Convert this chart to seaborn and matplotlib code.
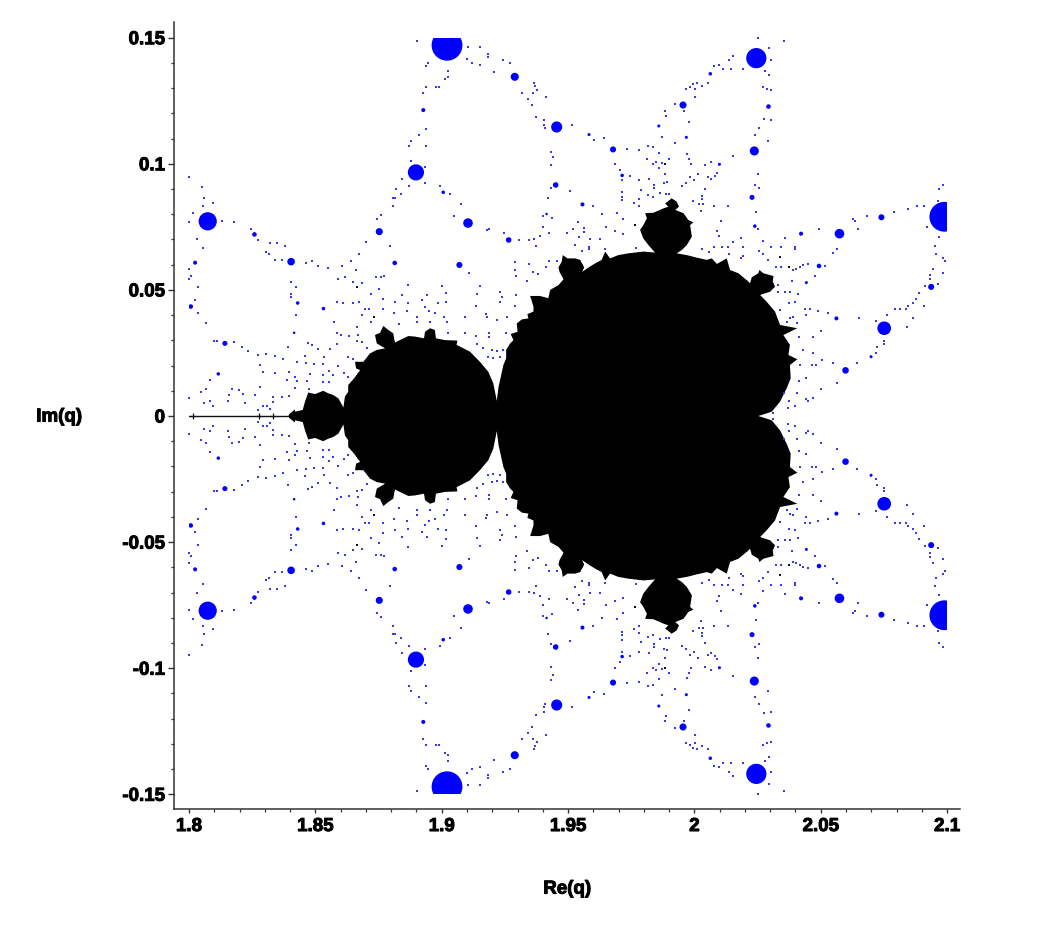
import numpy as np
import pandas as pd
import matplotlib
matplotlib.use("Agg")
import matplotlib.pyplot as plt
import matplotlib.patheffects as pe
from matplotlib.patches import Rectangle
from matplotlib.ticker import MultipleLocator
import seaborn as sns

# upper half of the black set, left tip to right cusp
body_x = [1.8393, 1.8397, 1.8419, 1.8419, 1.8450, 1.8459, 1.8472, 1.8499, 1.8531, 1.8551, 1.8571, 1.8591, 1.8611,
          1.8617, 1.8630, 1.8630, 1.8653, 1.8677, 1.8661, 1.8657, 1.8690, 1.8716, 1.8743, 1.8776, 1.8743, 1.8736,
          1.8756, 1.8769, 1.8789, 1.8808, 1.8815, 1.8822, 1.8868, 1.8894, 1.8930, 1.8934, 1.8954, 1.8973, 1.8977,
          1.9013, 1.9062, 1.9059, 1.9112, 1.9151, 1.9184, 1.9204, 1.9218, 1.9225, 1.9234, 1.9244, 1.9255, 1.9255,
          1.9271, 1.9284, 1.9273, 1.9300, 1.9297, 1.9317, 1.9343, 1.9339, 1.9363, 1.9363, 1.9350, 1.9389, 1.9422,
          1.9429, 1.9462, 1.9482, 1.9466, 1.9462, 1.9475, 1.9479, 1.9498, 1.9528, 1.9548, 1.9564, 1.9554, 1.9535,
          1.9515, 1.9548, 1.9581, 1.9607, 1.9633, 1.9647, 1.9666, 1.9699, 1.9739, 1.9798, 1.9844, 1.9818, 1.9798,
          1.9785, 1.9798, 1.9812, 1.9805, 1.9838, 1.9877, 1.9897, 1.9884, 1.9910, 1.9930, 1.9939, 1.9924, 1.9957,
          1.9976, 1.9996, 1.9983, 1.9990, 1.9970, 1.9950, 1.9930, 1.9970, 2.0009, 2.0049, 2.0069, 2.0089, 2.0128,
          2.0141, 2.0174, 2.0214, 2.0220, 2.0227, 2.0253, 2.0257, 2.0273, 2.0313, 2.0310, 2.0319, 2.0300, 2.0260,
          2.0286, 2.0319, 2.0339, 2.0407, 2.0352, 2.0378, 2.0372, 2.0407, 2.0378, 2.0381, 2.0365, 2.0339, 2.0306,
          2.0253]
body_y = [0.0000, 0.0008, 0.0026, 0.0017, 0.0024, 0.0057, 0.0093, 0.0087, 0.0100, 0.0090, 0.0083, 0.0070, 0.0034,
          0.0077, 0.0096, 0.0123, 0.0149, 0.0182, 0.0189, 0.0215, 0.0215, 0.0248, 0.0262, 0.0268, 0.0288, 0.0321,
          0.0330, 0.0357, 0.0341, 0.0328, 0.0291, 0.0295, 0.0317, 0.0315, 0.0308, 0.0334, 0.0348, 0.0341, 0.0308,
          0.0301, 0.0299, 0.0282, 0.0255, 0.0215, 0.0176, 0.0130, 0.0060, 0.0116, 0.0156, 0.0202, 0.0229, 0.0262,
          0.0288, 0.0301, 0.0325, 0.0334, 0.0367, 0.0383, 0.0387, 0.0404, 0.0414, 0.0434, 0.0476, 0.0476, 0.0467,
          0.0500, 0.0519, 0.0542, 0.0572, 0.0589, 0.0612, 0.0638, 0.0625, 0.0625, 0.0619, 0.0589, 0.0568, 0.0550,
          0.0539, 0.0566, 0.0589, 0.0605, 0.0619, 0.0652, 0.0625, 0.0638, 0.0645, 0.0652, 0.0648, 0.0678, 0.0704,
          0.0738, 0.0757, 0.0784, 0.0804, 0.0806, 0.0823, 0.0830, 0.0843, 0.0863, 0.0850, 0.0830, 0.0817, 0.0804,
          0.0777, 0.0768, 0.0757, 0.0711, 0.0678, 0.0658, 0.0645, 0.0638, 0.0628, 0.0619, 0.0625, 0.0603, 0.0625,
          0.0579, 0.0566, 0.0533, 0.0526, 0.0550, 0.0566, 0.0579, 0.0566, 0.0555, 0.0533, 0.0513, 0.0493, 0.0480,
          0.0453, 0.0414, 0.0361, 0.0348, 0.0321, 0.0282, 0.0242, 0.0225, 0.0202, 0.0149, 0.0110, 0.0057, 0.0017,
          0.0000]

# the black tail on the real axis
tail_x = [1.8000, 1.8393]
tail_y = [0.0, 0.0]
tail_tick_x = [1.8017, 1.8278, 1.8331]
tail_tick_y = [0.0, 0.0, 0.0]

# blue spots, upper half: centre and radius
spot_x = [1.9021, 2.0989, 1.8074, 1.8898, 1.9289, 1.9455, 1.8927, 1.8259, 1.8404, 1.8753, 1.9104, 1.9006, 1.8814,
          1.9070, 1.9265, 1.8024, 1.8007, 1.8430, 1.8532, 1.8142, 1.8116, 1.8416, 1.9451, 1.9415, 2.0245, 2.0063,
          1.9955, 2.0293, 2.0237, 1.9678, 1.9583, 1.9968, 2.0099, 1.9714, 1.9859, 1.9557, 2.0228, 2.0239, 2.0422,
          2.0574, 2.0740, 2.0493, 2.0443, 2.0937, 2.0751, 2.0562, 2.0598, 2.0699]
spot_y = [0.1470, 0.0790, 0.0772, 0.0966, 0.1345, 0.1146, 0.1213, 0.0720, 0.0612, 0.0731, 0.0765, 0.0887, 0.0607,
          0.0599, 0.0698, 0.0608, 0.0434, 0.0448, 0.0426, 0.0288, 0.0167, 0.0330, 0.0916, 0.0801, 0.1419, 0.1357,
          0.1233, 0.1227, 0.1051, 0.1057, 0.1116, 0.1105, 0.0998, 0.0954, 0.1150, 0.0839, 0.0867, 0.0753, 0.0723,
          0.0723, 0.0788, 0.0595, 0.0529, 0.0512, 0.0348, 0.0387, 0.0181, 0.0235]
spot_r = [0.0061, 0.0059, 0.0036, 0.0032, 0.0016, 0.0022, 0.0008, 0.0009, 0.0015, 0.0014, 0.0019, 0.0007, 0.0009,
          0.0012, 0.0011, 0.0008, 0.0009, 0.0007, 0.0007, 0.0010, 0.0007, 0.0005, 0.0011, 0.0005, 0.0040, 0.0007,
          0.0014, 0.0009, 0.0018, 0.0012, 0.0006, 0.0006, 0.0006, 0.0007, 0.0006, 0.0008, 0.0010, 0.0007, 0.0008,
          0.0019, 0.0012, 0.0009, 0.0006, 0.0012, 0.0027, 0.0008, 0.0013, 0.0006]

# tiny blue dots, upper half
dot_x = [1.8901, 1.9104, 1.9152, 1.9182, 1.9182, 1.9099, 1.9119, 1.9152, 1.9241, 1.9270, 1.9207, 1.8944, 1.8938,
         1.9026, 1.9026, 1.9013, 1.8976, 1.8989, 1.8938, 1.8927, 1.9365, 1.9371, 1.9378, 1.9360, 1.9319, 1.9343,
         1.9356, 1.9413, 1.9372, 1.9405, 1.9405, 1.9409, 1.8938, 1.8909, 1.8877, 1.8938, 1.8872, 1.9431, 1.9439,
         1.8877, 1.9431, 1.8934, 1.8934, 1.8872, 1.8844, 1.8819, 1.8838, 1.8806, 1.8814, 1.8809, 1.8760, 1.8743,
         1.8993, 1.9033, 1.9075, 1.9050, 1.9187, 1.9178, 1.9247, 1.9306, 1.9345, 1.9365, 1.9389, 1.9426, 1.9372,
         1.9400, 1.9400, 1.9431, 1.9422, 1.9438, 1.8001, 1.8053, 1.8059, 1.8095, 1.8054, 1.8017, 1.8001, 1.8131,
         1.8178, 1.8244, 1.8030, 1.8274, 1.8054, 1.8321, 1.8350, 1.8380, 1.8305, 1.8315, 1.8339, 1.8368, 1.8463,
         1.8488, 1.8512, 1.8551, 1.8605, 1.8641, 1.8674, 1.8700, 1.8795, 1.8660, 1.8588, 1.8617, 1.8648, 1.8683,
         1.8739, 1.8758, 1.8773, 1.8001, 1.8007, 1.8001, 1.8036, 1.8024, 1.8036, 1.8066, 1.8405, 1.8422, 1.8405,
         1.8405, 1.8422, 1.8393, 1.8472, 1.8487, 1.8512, 1.8534, 1.8558, 1.8587, 1.8587, 1.8603, 1.8574, 1.8584,
         1.8611, 1.8648, 1.8671, 1.8696, 1.8714, 1.8683, 1.8719, 1.8666, 1.8634, 1.8670, 1.8663, 1.8683, 1.8703,
         1.8719, 1.8753, 1.8766, 1.8815, 1.8769, 1.8811, 1.8842, 1.8867, 1.8867, 1.8861, 1.8921, 1.8943, 1.8934,
         1.8951, 1.8973, 1.9000, 1.9016, 1.9016, 1.8987, 1.9009, 1.9020, 1.8904, 1.8904, 1.8954, 1.8832, 1.9109,
         1.9152, 1.9141, 1.9136, 1.9092, 1.9175, 1.9178, 1.9217, 1.9231, 1.9237, 1.9290, 1.9290, 1.9293, 1.9345,
         1.9336, 1.9360, 1.9382, 1.9426, 1.9413, 1.9455, 1.9294, 1.9290, 1.9257, 1.9231, 1.9092, 1.9026, 1.9136,
         1.9189, 1.9189, 1.9253, 1.9138, 1.9165, 1.9198, 1.9217, 1.9244, 1.9185, 1.9204, 1.9231, 1.8099, 1.8112,
         1.8178, 1.8208, 1.8232, 1.8273, 1.8303, 1.8339, 1.8373, 1.8429, 1.8458, 1.8463, 1.8495, 1.8529, 1.8588,
         1.8631, 1.8650, 1.8281, 1.8292, 1.8339, 1.8397, 1.8421, 1.8429, 1.8386, 1.8479, 1.8466, 1.8532, 1.8553,
         1.8529, 1.8553, 1.8571, 1.8613, 1.8631, 1.8083, 1.8066, 1.8049, 1.8169, 1.8197, 1.8160, 1.8281, 1.8215,
         1.8261, 1.8220, 1.8154, 1.8083, 1.8059, 1.8095, 1.8001, 1.8334, 1.8368, 1.8397, 1.8421, 1.8334, 1.8292,
         1.8307, 1.8273, 1.8321, 1.8475,
         2.0251, 2.0355, 2.0297, 2.0303, 2.0154, 2.0137, 2.0096, 2.0078, 2.0115, 2.0144, 2.0191, 2.0280, 2.0297,
         2.0054, 2.0012, 1.9996, 2.0030, 1.9983, 1.9967, 2.0001, 2.0273, 2.0286, 2.0303, 2.0001, 1.9923, 1.9885,
         1.9888, 1.9960, 1.9978, 2.0276, 2.0303, 2.0257, 2.0239, 2.0293, 1.9515, 1.9603, 1.9644, 1.9871, 1.9923,
         1.9817, 1.9836, 1.9734, 1.9781, 1.9859, 1.9971, 1.9978, 1.9988, 1.9898, 1.9811, 1.9836, 1.9848, 1.9871,
         1.9859, 1.9687, 1.9706, 1.9745, 2.0042, 2.0066, 2.0154, 2.0253, 2.0088, 2.0080, 2.0054, 2.0066, 2.0013,
         1.9983, 2.0000, 1.9967, 1.9949, 1.9883, 1.9893, 1.9881, 1.9822, 1.9780, 1.9715, 1.9840, 1.9840, 1.9788,
         1.9715, 1.9715, 1.9715, 1.9817, 1.9836, 1.9864, 1.9888, 1.9900, 1.9782, 1.9759, 1.9782, 1.9508, 1.9598,
         1.9635, 1.9693, 1.9716, 1.9650, 1.9541, 1.9563, 1.9563, 1.9521, 1.9497, 1.9686, 1.9719, 1.9545, 1.9587,
         1.9628, 1.9526, 1.9581, 1.9555, 1.9584, 1.9769, 1.9646, 2.0240, 2.0257, 2.0042, 2.0030, 2.0030, 1.9993,
         2.0020, 2.0033, 2.0079, 2.0131, 2.0025, 2.0104, 2.0244, 2.0251, 2.0088, 2.0096, 2.0186, 2.0154, 2.0078,
         2.0108, 2.0132, 2.0032, 2.0057, 2.0191, 2.0273, 2.0302, 2.0344, 2.0357, 2.0398, 2.0398, 2.0257, 2.0273,
         2.0194, 2.0186, 2.0293, 2.0135, 2.0493, 2.0563, 2.0547, 2.0629, 2.0636, 2.0648, 2.0683, 2.0790, 2.0844,
         2.0880, 2.0909, 2.0922, 2.0963, 2.0968, 2.0985, 2.0968, 2.0951, 2.0956, 2.0985, 2.0992, 2.0943, 2.0985,
         2.0933, 2.0933, 2.0963, 2.0913, 2.0890, 2.0877, 2.0866, 2.0909, 2.0844, 2.0838, 2.0814, 2.0795, 2.0761,
         2.0719, 2.0864, 2.0840, 2.0650, 2.0529, 2.0491, 2.0458, 2.0439, 2.0442, 2.0751, 2.0751, 2.0724, 2.0719,
         2.0642, 2.0547, 2.0517, 2.0451, 2.0429, 2.0416, 2.0402, 2.0392, 2.0344, 2.0323, 2.0476, 2.0388, 2.0332,
         2.0332, 2.0359, 2.0380, 2.0410, 2.0375, 2.0398, 2.0339, 2.0392, 2.0379, 2.0365, 2.0405, 2.0500, 2.0471,
         2.0413, 2.0431, 2.0471, 2.0503, 2.0418, 2.0464, 2.0481, 2.0412, 2.0441, 2.0500, 2.0563, 2.0405, 2.0471,
         2.0441, 2.0451, 2.0375, 2.0398, 2.0369, 2.0310, 2.0355]
dot_y = [0.1488, 0.1464, 0.1464, 0.1435, 0.1422, 0.1417, 0.1401, 0.1393, 0.1410, 0.1401, 0.1364, 0.1401, 0.1388,
         0.1369, 0.1345, 0.1338, 0.1303, 0.1303, 0.1303, 0.1279, 0.1322, 0.1308, 0.1293, 0.1279, 0.1279, 0.1257,
         0.1233, 0.1266, 0.1184, 0.1174, 0.1154, 0.1142, 0.1137, 0.1114, 0.1090, 0.1072, 0.1072, 0.1048, 0.1026,
         0.1012, 0.0995, 0.0989, 0.0925, 0.0912, 0.0940, 0.0899, 0.0882, 0.0863, 0.0863, 0.0834, 0.0797, 0.0780,
         0.0912, 0.0882, 0.0841, 0.0793, 0.0740, 0.0738, 0.0727, 0.0698, 0.0698, 0.0703, 0.0714, 0.0724, 0.0674,
         0.0751, 0.0793, 0.0903, 0.0863, 0.0786, 0.0946, 0.0907, 0.0863, 0.0846, 0.0834, 0.0804, 0.0768, 0.0775,
         0.0769, 0.0740, 0.0703, 0.0698, 0.0666, 0.0685, 0.0685, 0.0674, 0.0649, 0.0642, 0.0619, 0.0619, 0.0608,
         0.0613, 0.0596, 0.0588, 0.0596, 0.0613, 0.0644, 0.0691, 0.0675, 0.0579, 0.0542, 0.0550, 0.0531, 0.0526,
         0.0550, 0.0550, 0.0555, 0.0584, 0.0555, 0.0542, 0.0513, 0.0460, 0.0407, 0.0370, 0.0530, 0.0513, 0.0484,
         0.0471, 0.0400, 0.0275, 0.0288, 0.0282, 0.0267, 0.0233, 0.0267, 0.0285, 0.0328, 0.0321, 0.0374, 0.0453,
         0.0447, 0.0447, 0.0453, 0.0423, 0.0423, 0.0400, 0.0374, 0.0352, 0.0317, 0.0321, 0.0299, 0.0295, 0.0268,
         0.0484, 0.0502, 0.0464, 0.0453, 0.0423, 0.0410, 0.0478, 0.0519, 0.0447, 0.0418, 0.0460, 0.0478, 0.0434,
         0.0416, 0.0410, 0.0517, 0.0486, 0.0453, 0.0447, 0.0394, 0.0374, 0.0394, 0.0374, 0.0374, 0.0365, 0.0566,
         0.0517, 0.0484, 0.0436, 0.0394, 0.0404, 0.0394, 0.0381, 0.0493, 0.0473, 0.0612, 0.0579, 0.0555, 0.0601,
         0.0537, 0.0572, 0.0563, 0.0616, 0.0592, 0.0616, 0.0480, 0.0436, 0.0394, 0.0453, 0.0330, 0.0328, 0.0317,
         0.0330, 0.0315, 0.0328, 0.0285, 0.0268, 0.0262, 0.0259, 0.0262, 0.0233, 0.0229, 0.0235, 0.0297, 0.0297,
         0.0292, 0.0275, 0.0258, 0.0241, 0.0245, 0.0238, 0.0225, 0.0215, 0.0238, 0.0209, 0.0206, 0.0206, 0.0198,
         0.0233, 0.0225, 0.0202, 0.0173, 0.0169, 0.0173, 0.0156, 0.0139, 0.0143, 0.0167, 0.0139, 0.0163, 0.0180,
         0.0136, 0.0136, 0.0163, 0.0172, 0.0156, 0.0143, 0.0106, 0.0096, 0.0108, 0.0103, 0.0083, 0.0114, 0.0087,
         0.0085, 0.0053, 0.0059, 0.0059, 0.0050, 0.0041, 0.0073, 0.0077, 0.0077, 0.0079, 0.0110, 0.0057, 0.0041,
         0.0041, 0.0024, 0.0029, 0.0107,
         0.1500, 0.1488, 0.1459, 0.1410, 0.1429, 0.1410, 0.1393, 0.1388, 0.1375, 0.1375, 0.1375, 0.1369, 0.1351,
         0.1322, 0.1322, 0.1316, 0.1308, 0.1303, 0.1298, 0.1295, 0.1303, 0.1298, 0.1293, 0.1264, 0.1237, 0.1208,
         0.1191, 0.1208, 0.1167, 0.1179, 0.1174, 0.1143, 0.1114, 0.1090, 0.1155, 0.1096, 0.1102, 0.1108, 0.1084,
         0.1072, 0.1067, 0.1060, 0.1053, 0.1043, 0.1039, 0.1019, 0.1001, 0.1018, 0.1019, 0.1001, 0.1006, 0.1002,
         0.0983, 0.1001, 0.0975, 0.0953, 0.0995, 0.1006, 0.1031, 0.0960, 0.0962, 0.0953, 0.0949, 0.0940, 0.0960,
         0.0948, 0.0936, 0.0923, 0.0911, 0.0960, 0.0928, 0.0923, 0.0940, 0.0936, 0.0936, 0.0917, 0.0904, 0.0898,
         0.0887, 0.0870, 0.0857, 0.0875, 0.0870, 0.0883, 0.0880, 0.0880, 0.0859, 0.0846, 0.0833, 0.0893, 0.0833,
         0.0801, 0.0804, 0.0780, 0.0751, 0.0769, 0.0744, 0.0731, 0.0740, 0.0727, 0.0734, 0.0722, 0.0708, 0.0703,
         0.0703, 0.0679, 0.0671, 0.0656, 0.0661, 0.0666, 0.0661, 0.0916, 0.0905, 0.0900, 0.0874, 0.0860, 0.0851,
         0.0839, 0.0839, 0.0833, 0.0831, 0.0814, 0.0775, 0.0809, 0.0740, 0.0735, 0.0714, 0.0706, 0.0690, 0.0671,
         0.0671, 0.0671, 0.0661, 0.0650, 0.0669, 0.0694, 0.0671, 0.0671, 0.0707, 0.0671, 0.0661, 0.0656, 0.0642,
         0.0634, 0.0625, 0.0619, 0.0642, 0.0740, 0.0661, 0.0645, 0.0780, 0.0775, 0.0740, 0.0793, 0.0810, 0.0822,
         0.0833, 0.0833, 0.0751, 0.0851, 0.0899, 0.0917, 0.0708, 0.0674, 0.0642, 0.0626, 0.0613, 0.0584, 0.0566,
         0.0559, 0.0542, 0.0523, 0.0515, 0.0486, 0.0465, 0.0447, 0.0436, 0.0436, 0.0423, 0.0423, 0.0423, 0.0400,
         0.0375, 0.0387, 0.0352, 0.0387, 0.0410, 0.0418, 0.0423, 0.0423, 0.0400, 0.0299, 0.0285, 0.0275, 0.0251,
         0.0209, 0.0209, 0.0595, 0.0603, 0.0599, 0.0589, 0.0584, 0.0579, 0.0592, 0.0589, 0.0555, 0.0537, 0.0519,
         0.0493, 0.0493, 0.0493, 0.0484, 0.0447, 0.0453, 0.0420, 0.0394, 0.0387, 0.0374, 0.0370, 0.0338, 0.0315,
         0.0312, 0.0262, 0.0251, 0.0222, 0.0204, 0.0202, 0.0202, 0.0140, 0.0149, 0.0106, 0.0132, 0.0090, 0.0071,
         0.0066, 0.0059, 0.0059, 0.0041, 0.0030, 0.0011, 0.0090]

# stray black dots, upper half
black_x = [1.8664, 1.8733, 1.9885, 2.0339, 2.0375, 1.9764]
black_y = [0.0510, 0.0394, 0.0999, 0.0629, 0.0592, 0.0757]

x_ticks = [1.8, 1.85, 1.9, 1.95, 2.0, 2.05, 2.1]
x_labels = ["1.8", "1.85", "1.9", "1.95", "2", "2.05", "2.1"]
y_ticks = [0.15, 0.1, 0.05, 0.0, -0.05, -0.1, -0.15]
y_labels = ["0.15", "0.1", "0.05", "0", "-0.05", "-0.1", "-0.15"]


def both_halves(xs, ys):
    # the set is symmetric about the real axis
    xs, ys = np.array(xs), np.array(ys)
    return pd.DataFrame({"re": np.concatenate([xs, xs]), "im": np.concatenate([ys, -ys])})


sns.set_style("ticks")
plt.rcParams['font.family'] = ['Liberation Sans', 'DejaVu Sans']

fig = plt.figure(figsize=(10.59, 9.36), dpi=100)
ax = fig.add_axes([174 / 1059, 1 - 809 / 936, 786 / 1059, 787 / 936])
ax.set_xlim(1.79406, 2.1051)
ax.set_ylim(-0.15583, 0.15623)
frame = Rectangle((1.8, -0.15), 0.3, 0.3, transform=ax.transData)

outline_x = list(body_x) + list(body_x)[::-1]
outline_y = list(body_y) + [-v for v in body_y][::-1]
ax.fill(outline_x, outline_y, color="black", linewidth=0, zorder=3)
sns.lineplot(x=tail_x, y=tail_y, color="#111111", linewidth=1.0, ax=ax, zorder=2)
sns.scatterplot(x=tail_tick_x, y=tail_tick_y, color="#111111", marker="+", s=22, linewidth=0.9, ax=ax, zorder=2)

spots = both_halves(spot_x, spot_y)
diam = 2 * np.array(spot_r + spot_r) * 2527 * 0.72
dots = both_halves(dot_x, dot_y)
blacks = both_halves(black_x, black_y)

sns.scatterplot(data=spots, x="re", y="im", color="#0000ff", s=diam ** 2, linewidth=0, ax=ax, zorder=4)
ax.collections[-1].set_clip_path(frame)
sns.scatterplot(data=dots, x="re", y="im", color="#3a3ae4", marker="s", s=1.6, linewidth=0, ax=ax, zorder=4)
sns.scatterplot(data=blacks, x="re", y="im", color="#111111", marker="s", s=2.6, linewidth=0, ax=ax, zorder=4)

sns.despine(ax=ax)
for side in ["left", "bottom"]:
    ax.spines[side].set_linewidth(1.1)
    ax.spines[side].set_color("#333333")

ax.set_xticks(x_ticks)
ax.set_xticklabels(x_labels, fontsize=13.5, fontweight="bold", color="black")
ax.set_yticks(y_ticks)
ax.set_yticklabels(y_labels, fontsize=13.5, fontweight="bold", color="black")
ax.xaxis.set_minor_locator(MultipleLocator(0.01))
ax.yaxis.set_minor_locator(MultipleLocator(0.01))
ax.tick_params(axis="x", which="major", length=3, width=1.0, color="#333333", pad=3.5)
ax.tick_params(axis="y", which="major", length=4.5, width=1.0, color="#333333", pad=2)
ax.tick_params(which="minor", length=2, width=0.9, color="#333333")

ax.set_xlabel("Re(q)", fontsize=13.5, fontweight="bold", color="black")
ax.set_ylabel("Im(q)", fontsize=13.5, fontweight="bold", color="black", rotation=0, ha="center", va="center")
ax.xaxis.set_label_coords(0.5, -0.091)
ax.yaxis.set_label_coords(-0.1463, 0.498)

# the original text is very heavy
heavy = [pe.withStroke(linewidth=0.7, foreground="black")]
for label in ax.get_xticklabels() + ax.get_yticklabels() + [ax.xaxis.label, ax.yaxis.label]:
    label.set_path_effects(heavy)

fig.savefig("out.png", dpi=100)
